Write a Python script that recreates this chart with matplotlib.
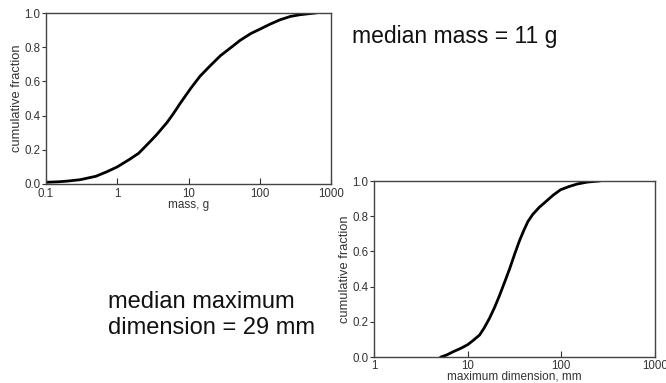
import matplotlib.pyplot as plt

plt.rcParams['font.family'] = ['Liberation Sans', 'DejaVu Sans']

# mass distribution (g)
mass_g = [0.1, 0.15, 0.2, 0.3, 0.5, 0.7, 1, 1.5, 2, 3, 3.6, 5, 6.1, 7.6, 9.4, 11,
          14.5, 20, 28, 40, 53, 75, 100, 140, 192, 270, 367, 600]
mass_frac = [0.01, 0.013, 0.017, 0.025, 0.045, 0.07, 0.10, 0.145, 0.18, 0.255, 0.29, 0.36,
             0.41, 0.47, 0.525, 0.565, 0.63, 0.69, 0.75, 0.80, 0.84, 0.88, 0.905, 0.935,
             0.96, 0.98, 0.99, 1.0]

# maximum dimension distribution (mm)
dim_mm = [5.2, 6, 7, 8.5, 10, 11.5, 13.4, 15, 17.1, 19.5, 21.9, 25, 28, 32, 35.7, 39.8,
          44, 49.5, 58, 69, 82, 98, 120, 148, 190, 253]
dim_frac = [0.0, 0.012, 0.03, 0.05, 0.07, 0.095, 0.125, 0.165, 0.22, 0.285, 0.35, 0.43,
            0.50, 0.59, 0.66, 0.72, 0.77, 0.81, 0.85, 0.885, 0.92, 0.95, 0.968, 0.983,
            0.994, 1.0]

fig = plt.figure(figsize=(6.66, 3.83), dpi=100)
W, H = 666, 383


def make_axes(left, right, top, bottom):
    return fig.add_axes([left / W, 1 - bottom / H, (right - left) / W, (bottom - top) / H])


def style(ax, xticks, xlabels, xlabel, xpad):
    ax.set_xscale('log')
    ax.set_xlim(xticks[0], xticks[-1])
    ax.set_ylim(0, 1)
    ax.set_xticks(xticks)
    ax.set_xticklabels(xlabels)
    ax.minorticks_off()
    ax.set_yticks([0, 0.2, 0.4, 0.6, 0.8, 1.0])
    ax.set_yticklabels(['0.0', '0.2', '0.4', '0.6', '0.8', '1.0'])
    ax.tick_params(axis='x', direction='in', length=4, width=0.8, labelsize=8.3,
                   pad=xpad, colors='#333333')
    ax.tick_params(axis='y', direction='out', length=3, width=0.8, labelsize=8.3,
                   pad=1, colors='#333333')
    for s in ax.spines.values():
        s.set_linewidth(1.0)
        s.set_color('#444444')
    ax.set_ylabel('cumulative fraction', fontsize=9.3, color='#333333', labelpad=1)
    ax.set_xlabel(xlabel, fontsize=8.5, color='#333333', labelpad=-1)


# =========================
# mass
# =========================
ax1 = make_axes(46, 331, 13, 184)
ax1.plot(mass_g, mass_frac, color='black', lw=2)
style(ax1, [0.1, 1, 10, 100, 1000], ['0.1', '1', '10', '100', '1000'], 'mass, g', 3)

# =========================
# maximum dimension
# =========================
ax2 = make_axes(374, 655, 181, 357)
ax2.plot(dim_mm, dim_frac, color='black', lw=2)
style(ax2, [1, 10, 100, 1000], ['1', '10', '100', '1000'], 'maximum dimension, mm', 2)

fig.text(352 / W, 1 - 37 / H, 'median mass = 11 g', fontsize=16.5, va='center', ha='left',
         color='#111111')
fig.text(108 / W, 1 - 302 / H, 'median maximum', fontsize=17, va='center', ha='left',
         color='#111111')
fig.text(108 / W, 1 - 328 / H, 'dimension = 29 mm', fontsize=17, va='center', ha='left',
         color='#111111')

plt.savefig('out.png', dpi=100)
